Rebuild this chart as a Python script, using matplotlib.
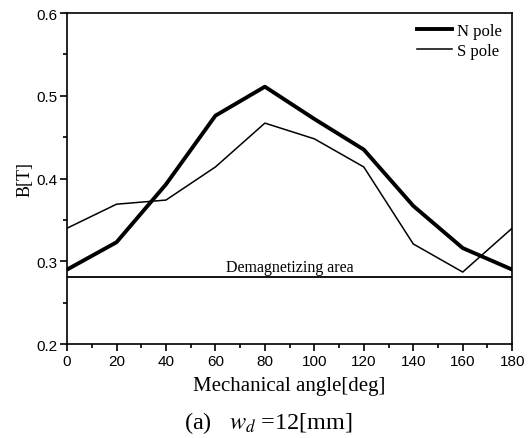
import matplotlib
matplotlib.use("Agg")
import matplotlib.pyplot as plt
from matplotlib.ticker import MultipleLocator

# Data
angle = [0, 20, 40, 60, 80, 100, 120, 140, 160, 180]
n_pole = [0.290, 0.323, 0.393, 0.476, 0.511, 0.472, 0.435, 0.367, 0.316, 0.290]
s_pole = [0.340, 0.369, 0.374, 0.414, 0.467, 0.448, 0.414, 0.321, 0.287, 0.340]
demag_level = 0.281

plt.rcParams['mathtext.fontset'] = 'stix'

fig = plt.figure(figsize=(5.28, 4.39), dpi=100)
ax = fig.add_axes([0.127, 0.214, 0.843, 0.754])

ax.plot(angle, n_pole, color='black', lw=2.8, label='N pole')
ax.plot(angle, s_pole, color='black', lw=1.1, label='S pole')
ax.axhline(demag_level, color='black', lw=1.3)
ax.text(90, demag_level + 0.003, 'Demagnetizing area', ha='center', va='bottom',
        family='Liberation Serif', fontsize=11.5)

ax.set_xlim(0, 180)
ax.set_ylim(0.2, 0.6)
ax.xaxis.set_major_locator(MultipleLocator(20))
ax.xaxis.set_minor_locator(MultipleLocator(10))
ax.yaxis.set_major_locator(MultipleLocator(0.1))
ax.yaxis.set_minor_locator(MultipleLocator(0.05))
ax.tick_params(which='both', direction='out', width=1.2)
ax.tick_params(which='major', length=5, labelsize=11, pad=2)
ax.tick_params(which='minor', length=3)
for lab in ax.get_xticklabels() + ax.get_yticklabels():
    lab.set_family('Liberation Sans')
for sp in ax.spines.values():
    sp.set_linewidth(1.2)

ax.set_xlabel('Mechanical angle[deg]', family='Liberation Serif', fontsize=15, labelpad=6)
ax.set_ylabel('B[T]', family='Liberation Serif', fontsize=13, labelpad=2)

leg = ax.legend(loc='upper right', frameon=False, prop={'family': 'Liberation Serif', 'size': 12},
                handlelength=2.1, handletextpad=0.3, labelspacing=0.25, borderaxespad=0.2)

fig.text(0.508, 0.037, r'(a)   $w_d$ =12[mm]', ha='center', va='center',
         family='Liberation Serif', fontsize=17.5)

fig.savefig('out.png', dpi=100)
